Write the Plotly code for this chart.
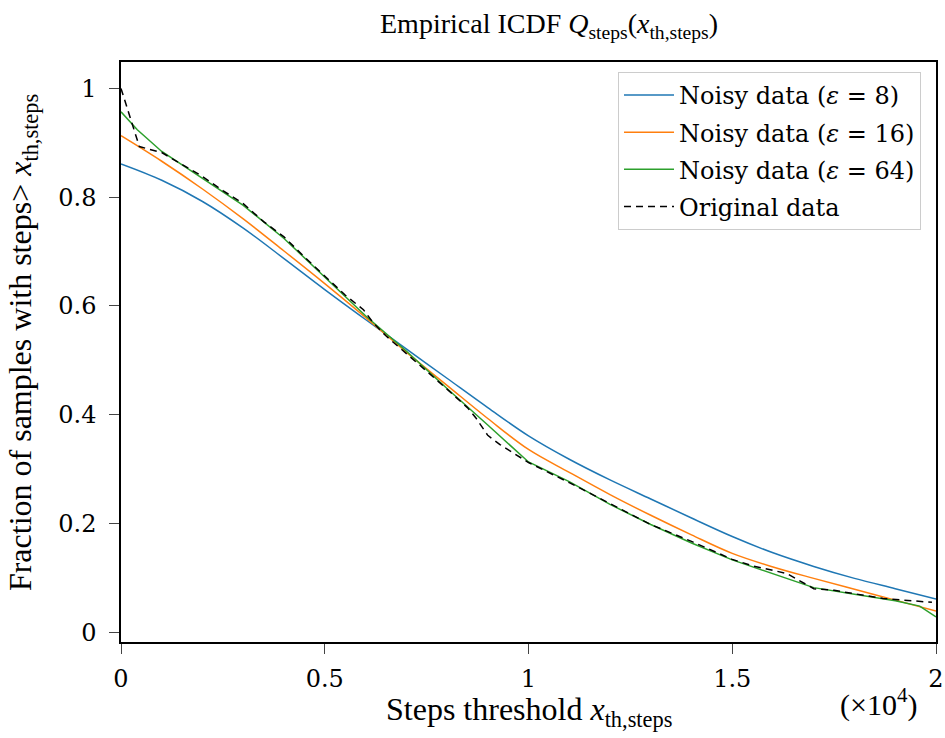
import plotly.graph_objects as go

# x in units of 1e4 steps
x_grid = [0.0, 0.1, 0.2, 0.3, 0.4, 0.5, 0.6, 0.7, 0.8, 0.9, 1.0,
          1.1, 1.2, 1.3, 1.4, 1.5, 1.6, 1.7, 1.8, 1.9, 2.0]
eps8 = [0.861, 0.831, 0.792, 0.743, 0.687, 0.630, 0.575, 0.521, 0.467, 0.413, 0.361,
        0.318, 0.280, 0.245, 0.210, 0.176, 0.146, 0.121, 0.099, 0.080, 0.061]
eps16 = [0.913, 0.866, 0.815, 0.760, 0.701, 0.641, 0.579, 0.515, 0.454, 0.393, 0.336,
         0.294, 0.253, 0.215, 0.179, 0.145, 0.120, 0.099, 0.079, 0.059, 0.039]

x_g64 = [0.0, 0.04, 0.1, 0.2, 0.3, 0.4, 0.5, 0.6, 0.7, 0.8, 0.9, 1.0,
         1.1, 1.2, 1.3, 1.4, 1.5, 1.6, 1.7, 1.8, 1.9, 1.96, 2.0]
eps64 = [0.957, 0.924, 0.884, 0.835, 0.785, 0.724, 0.653, 0.582, 0.517, 0.448, 0.381, 0.313,
         0.277, 0.235, 0.198, 0.164, 0.133, 0.108, 0.082, 0.070, 0.058, 0.048, 0.028]

x_orig = [0.0, 0.045, 0.1, 0.15, 0.2, 0.25, 0.3, 0.35, 0.4, 0.45, 0.5, 0.55, 0.595,
          0.62, 0.65, 0.7, 0.75, 0.8, 0.85, 0.87, 0.9, 0.93, 0.98, 1.0, 1.1, 1.2,
          1.3, 1.4, 1.5, 1.55, 1.634, 1.7, 1.75, 1.87, 1.99]
orig = [1.0, 0.893, 0.882, 0.860, 0.838, 0.812, 0.788, 0.755, 0.727, 0.690, 0.655, 0.620, 0.593,
        0.568, 0.545, 0.513, 0.480, 0.447, 0.413, 0.395, 0.362, 0.345, 0.322, 0.312, 0.275, 0.236,
        0.198, 0.167, 0.134, 0.122, 0.108, 0.080, 0.077, 0.062, 0.055]

x_ticks = [0, 0.5, 1, 1.5, 2]
x_ticktext = ["0", "0.5", "1", "1.5", "2"]
y_ticks = [0, 0.2, 0.4, 0.6, 0.8, 1.0]
y_ticktext = ["0", "0.2", "0.4", "0.6", "0.8", "1"]

FONT = "DejaVu Serif"
TFONT = "Liberation Serif"

fig = go.Figure()
fig.add_trace(go.Scatter(x=x_grid, y=eps8, mode="lines", line=dict(color="#1f77b4", width=1.5, shape="spline"),
                         name="Noisy data (<i>ε</i> = 8)", legendgroup="a"))
fig.add_trace(go.Scatter(x=x_grid, y=eps16, mode="lines", line=dict(color="#ff7f0e", width=1.5, shape="spline"),
                         name="Noisy data (<i>ε</i> = 16)", legendgroup="b"))
fig.add_trace(go.Scatter(x=x_g64, y=eps64, mode="lines", line=dict(color="#2ca02c", width=1.5),
                         name="Noisy data (<i>ε</i> = 64)", legendgroup="c"))
fig.add_trace(go.Scatter(x=x_orig, y=orig, mode="lines",
                         line=dict(color="black", width=1.5, dash="7px,5px"),
                         name="Original data", legendgroup="d"))

axis_common = dict(showgrid=False, zeroline=False, showline=True, linecolor="black", linewidth=1.5,
                   mirror=True, ticks="outside", ticklen=10, tickcolor="#444", tickwidth=1,
                   tickfont=dict(family=FONT, size=24), automargin=False)

fig.update_layout(
    width=945, height=738,
    margin=dict(l=121, r=9, t=62, b=96),
    paper_bgcolor="white", plot_bgcolor="white",
    font=dict(family=FONT, size=24, color="black"),
    title=dict(text="Empirical ICDF <i>Q</i><sub>steps</sub>(<i>x</i><sub>th,steps</sub>)",
               x=0.581, xanchor="center", y=0.968, yanchor="middle",
               font=dict(family=TFONT, size=28)),
    showlegend=True,
    legend=dict(x=0.9816, xanchor="right", y=0.983, yanchor="top",
                bgcolor="white", bordercolor="#cccccc", borderwidth=1, itemwidth=50,
                font=dict(family=FONT, size=24), tracegroupgap=3),
    xaxis=dict(range=[0, 2], tickvals=x_ticks, ticktext=x_ticktext, ticklabelstandoff=4, **axis_common),
    yaxis=dict(range=[-0.018, 1.0485], tickvals=y_ticks, ticktext=y_ticktext, ticklabelstandoff=8, **axis_common),
)
fig.add_annotation(text="Steps threshold <i>x</i><sub>th,steps</sub>", xref="paper", yref="paper",
                   x=0.5, y=-0.12, xanchor="center", yanchor="middle",
                   showarrow=False, font=dict(family=TFONT, size=32))
fig.add_annotation(text="Fraction of samples with steps> <i>x</i><sub>th,steps</sub>",
                   xref="paper", yref="paper", x=-0.1215, y=0.517, xanchor="center", yanchor="middle",
                   textangle=-90, showarrow=False, font=dict(family=TFONT, size=32))
fig.add_annotation(text="(×10<sup>4</sup>)", xref="paper", yref="paper",
                   x=0.929, y=-0.105, xanchor="center", yanchor="middle",
                   showarrow=False, font=dict(family=TFONT, size=30))

fig.write_html("out.html")
